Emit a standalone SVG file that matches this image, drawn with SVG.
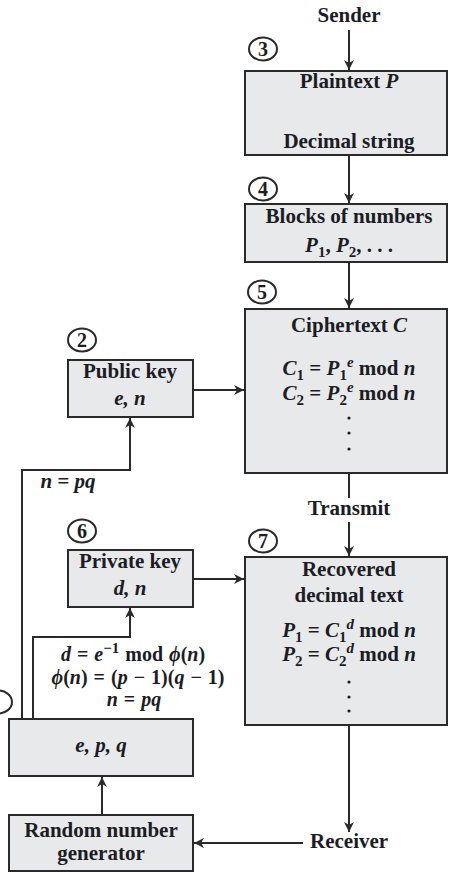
<svg xmlns="http://www.w3.org/2000/svg" width="449" height="872" viewBox="0 0 449 872">
<style>
.box{fill:#e8e9eb;stroke:#2a2a2a;stroke-width:2}
.t{font-family:"Liberation Serif","Times New Roman",serif;font-weight:bold;font-size:21px;fill:#1c1c24;text-anchor:middle}
.f{font-size:20px;word-spacing:1px}
.i{font-style:italic}
.s{font-size:15px}
.num{fill:none;stroke:#2a2a2a;stroke-width:2}
.n{font-family:"Liberation Serif",serif;font-weight:bold;font-size:20px;fill:#1c1c24;text-anchor:middle}
.c{fill:none;stroke:#2a2a2a;stroke-width:2}
.dot{fill:#1c1c24}
</style>
<defs>
<marker id="ah" viewBox="0 0 10 10" refX="10" refY="5" markerWidth="10" markerHeight="10" markerUnits="userSpaceOnUse" orient="auto">
<path d="M0,0 L10,5 L0,10 L3,5 Z" fill="#2a2a2a"/>
</marker>
</defs>
<g id="connectors">
<line class="c" x1="349" y1="30" x2="349" y2="70" marker-end="url(#ah)"/>
<line class="c" x1="349" y1="93" x2="349" y2="130" marker-end="url(#ah)"/>
<line class="c" x1="349" y1="155" x2="349" y2="203" marker-end="url(#ah)"/>
<line class="c" x1="349" y1="262" x2="349" y2="308" marker-end="url(#ah)"/>
<line class="c" x1="193" y1="390" x2="244" y2="390" marker-end="url(#ah)"/>
<line class="c" x1="349" y1="473" x2="349" y2="498"/>
<line class="c" x1="349" y1="522" x2="349" y2="556" marker-end="url(#ah)"/>
<line class="c" x1="193" y1="579" x2="244" y2="579" marker-end="url(#ah)"/>
<line class="c" x1="349" y1="725" x2="349" y2="832" marker-end="url(#ah)"/>
<line class="c" x1="303" y1="843" x2="194" y2="843" marker-end="url(#ah)"/>
<line class="c" x1="102" y1="815" x2="102" y2="777" marker-end="url(#ah)"/>
<polyline class="c" points="22,719 22,470 130,470 130,418" marker-end="url(#ah)"/>
<polyline class="c" points="33,719 33,637 130,637 130,608" marker-end="url(#ah)"/>
</g>
<g id="sender"><text class="t" x="349" y="22">Sender</text></g>
<g id="n3">
<rect class="box" x="245" y="71" width="202" height="84"/>
<text class="t" x="349" y="88">Plaintext <tspan class="i">P</tspan></text>
<text class="t" x="349" y="148">Decimal string</text>
</g>
<g id="n4">
<rect class="box" x="245" y="204" width="202" height="58"/>
<text class="t" x="349" y="223">Blocks of numbers</text>
<text class="t" x="349" y="252"><tspan class="i">P</tspan><tspan class="s" dy="5">1</tspan><tspan dy="-5">, </tspan><tspan class="i">P</tspan><tspan class="s" dy="5">2</tspan><tspan dy="-5">, .  .  .</tspan></text>
</g>
<g id="n5">
<rect class="box" x="245" y="309" width="202" height="164"/>
<text class="t" x="349" y="332">Ciphertext <tspan class="i">C</tspan></text>
<text class="t" x="349" y="375"><tspan class="i">C</tspan><tspan class="s" dy="5">1</tspan><tspan dy="-5"> = </tspan><tspan class="i">P</tspan><tspan class="s" dy="5">1</tspan><tspan class="s i" dy="-13">e</tspan><tspan dy="8"> mod </tspan><tspan class="i">n</tspan></text>
<text class="t" x="349" y="400"><tspan class="i">C</tspan><tspan class="s" dy="5">2</tspan><tspan dy="-5"> = </tspan><tspan class="i">P</tspan><tspan class="s" dy="5">2</tspan><tspan class="s i" dy="-13">e</tspan><tspan dy="8"> mod </tspan><tspan class="i">n</tspan></text>
<circle class="dot" cx="349" cy="418" r="1.6"/>
<circle class="dot" cx="349" cy="433" r="1.6"/>
<circle class="dot" cx="349" cy="449" r="1.6"/>
</g>
<g id="pubkey">
<rect class="box" x="68" y="360" width="125" height="57"/>
<text class="t" x="130" y="378">Public key</text>
<text class="t i" x="130" y="405">e, n</text>
</g>
<g id="lbl-npq"><text class="t i" x="68" y="488">n = pq</text></g>
<g id="transmit"><text class="t" x="349" y="515">Transmit</text></g>
<g id="n7">
<rect class="box" x="245" y="557" width="202" height="168"/>
<text class="t" x="349" y="576">Recovered</text>
<text class="t" x="349" y="602">decimal text</text>
<text class="t" x="349" y="637"><tspan class="i">P</tspan><tspan class="s" dy="5">1</tspan><tspan dy="-5"> = </tspan><tspan class="i">C</tspan><tspan class="s" dy="5">1</tspan><tspan class="s i" dy="-13">d</tspan><tspan dy="8"> mod </tspan><tspan class="i">n</tspan></text>
<text class="t" x="349" y="661"><tspan class="i">P</tspan><tspan class="s" dy="5">2</tspan><tspan dy="-5"> = </tspan><tspan class="i">C</tspan><tspan class="s" dy="5">2</tspan><tspan class="s i" dy="-13">d</tspan><tspan dy="8"> mod </tspan><tspan class="i">n</tspan></text>
<circle class="dot" cx="349" cy="682" r="1.6"/>
<circle class="dot" cx="349" cy="697" r="1.6"/>
<circle class="dot" cx="349" cy="711" r="1.6"/>
</g>
<g id="privkey">
<rect class="box" x="68" y="550" width="125" height="57"/>
<text class="t" x="130" y="568">Private key</text>
<text class="t i" x="130" y="595">d, n</text>
</g>
<g id="formulas">
<text class="t f" x="133" y="661"><tspan class="i">d</tspan> = <tspan class="i">e</tspan><tspan class="s" dy="-8">−1</tspan><tspan dy="8"> mod </tspan><tspan class="i">ϕ</tspan>(<tspan class="i">n</tspan>)</text>
<text class="t f" x="138" y="684"><tspan class="i">ϕ</tspan>(<tspan class="i">n</tspan>) = (<tspan class="i">p</tspan> − 1)(<tspan class="i">q</tspan> − 1)</text>
<text class="t f" x="134" y="706"><tspan class="i">n</tspan> = <tspan class="i">pq</tspan></text>
</g>
<g id="epq">
<rect class="box" x="9" y="719" width="184" height="57"/>
<text class="t i" x="101" y="752">e, p, q</text>
</g>
<g id="rng">
<rect class="box" x="9" y="815" width="184" height="56"/>
<text class="t" x="101" y="837">Random number</text>
<text class="t" x="101" y="860">generator</text>
</g>
<g id="receiver"><text class="t" x="310" y="848" style="text-anchor:start">Receiver</text></g>
<g id="circled">
<ellipse class="num" cx="263" cy="49" rx="14" ry="11.5"/><text class="n" x="263" y="56">3</text>
<ellipse class="num" cx="263" cy="189" rx="14" ry="11.5"/><text class="n" x="263" y="196">4</text>
<ellipse class="num" cx="262" cy="292" rx="14" ry="11.5"/><text class="n" x="262" y="299">5</text>
<ellipse class="num" cx="82" cy="340" rx="14" ry="11.5"/><text class="n" x="82" y="347">2</text>
<ellipse class="num" cx="82" cy="531" rx="14" ry="11.5"/><text class="n" x="82" y="538">6</text>
<ellipse class="num" cx="263" cy="541" rx="14" ry="11.5"/><text class="n" x="263" y="548">7</text>
<ellipse class="num" cx="-2" cy="702" rx="14" ry="11.5"/>
</g>
</svg>
